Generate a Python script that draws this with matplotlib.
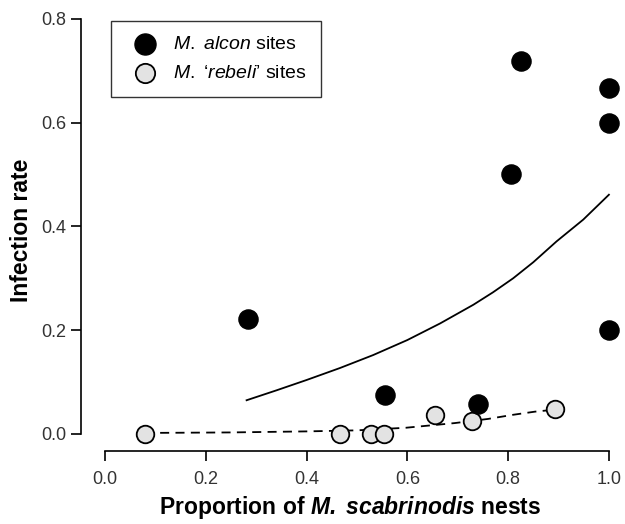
import matplotlib
matplotlib.use("Agg")
import matplotlib.pyplot as plt

plt.rcParams['font.family'] = ['Liberation Sans', 'DejaVu Sans']
plt.rcParams['mathtext.fontset'] = 'custom'
plt.rcParams['mathtext.rm'] = 'Liberation Sans'
plt.rcParams['mathtext.it'] = 'Liberation Sans:italic'
plt.rcParams['mathtext.bf'] = 'Liberation Sans:bold'
plt.rcParams['mathtext.bfit'] = 'Liberation Sans:italic:bold'

# M. alcon sites (black)
alcon_x = [0.284, 0.556, 0.741, 0.805, 0.826, 1.0, 1.0, 1.0]
alcon_y = [0.222, 0.076, 0.057, 0.500, 0.719, 0.666, 0.600, 0.200]

# M. 'rebeli' sites (grey)
rebeli_x = [0.079, 0.467, 0.527, 0.554, 0.655, 0.729, 0.894]
rebeli_y = [0.000, 0.000, 0.000, 0.000, 0.037, 0.025, 0.048]

# fitted curves
alcon_fit_x = [0.281, 0.340, 0.400, 0.466, 0.532, 0.600, 0.665, 0.731, 0.770, 0.810, 0.850, 0.896, 0.949, 1.0]
alcon_fit_y = [0.065, 0.084, 0.104, 0.127, 0.152, 0.181, 0.213, 0.249, 0.273, 0.300, 0.331, 0.371, 0.413, 0.461]

rebeli_fit_x = [0.079, 0.25, 0.40, 0.50, 0.597, 0.694, 0.76, 0.81, 0.853, 0.894]
rebeli_fit_y = [0.002, 0.003, 0.005, 0.007, 0.012, 0.021, 0.029, 0.037, 0.043, 0.047]

fig = plt.figure(figsize=(6.25, 5.24), dpi=100)
ax = fig.add_axes([0.1296, 0.1393, 0.8624, 0.8417])

ax.plot(alcon_fit_x, alcon_fit_y, color='black', lw=1.3, zorder=1)
ax.plot(rebeli_fit_x, rebeli_fit_y, color='black', lw=1.3, ls=(0, (5, 3.5)), zorder=1)

ax.scatter(alcon_x, alcon_y, s=190, color='black', edgecolor='black', zorder=3,
           label=r'$\mathit{M.}$ $\mathit{alcon}$ sites')
ax.scatter(rebeli_x, rebeli_y, s=160, color='#e3e3e3', edgecolor='black', linewidth=1.3,
           zorder=2, label=r"$\mathit{M.}$ $\mathit{‘rebeli’}$ sites")

ax.set_xlim(-0.0476, 1.022)
ax.set_ylim(-0.0328, 0.817)
ax.spines['top'].set_visible(False)
ax.spines['right'].set_visible(False)
ax.spines['left'].set_bounds(0, 0.8)
ax.spines['bottom'].set_bounds(0, 1.0)
ax.set_xticks([0.0, 0.2, 0.4, 0.6, 0.8, 1.0])
ax.set_yticks([0.0, 0.2, 0.4, 0.6, 0.8])
ax.set_xticklabels(['0.0', '0.2', '0.4', '0.6', '0.8', '1.0'])
ax.set_yticklabels(['0.0', '0.2', '0.4', '0.6', '0.8'])
ax.tick_params(length=7.5, width=1.2, labelsize=13, labelcolor='#333333')
ax.tick_params(axis='x', pad=7)
ax.tick_params(axis='y', pad=3)
for s in ['left', 'bottom']:
    ax.spines[s].set_linewidth(1.2)

ax.set_xlabel(r'Proportion of $\mathbfit{M.}$ $\mathbfit{scabrinodis}$ nests', fontsize=16.5,
              fontweight='bold', labelpad=4)
ax.set_ylabel('Infection rate', fontsize=16.5, fontweight='bold', labelpad=6)

leg = ax.legend(loc='upper left', bbox_to_anchor=(0.037, 0.998), fontsize=14,
                frameon=True, fancybox=False, edgecolor='black', borderpad=0.75,
                handletextpad=0.45, labelspacing=0.6, markerscale=1.1)
leg.get_frame().set_linewidth(1.0)

fig.savefig('out.png', dpi=100)
